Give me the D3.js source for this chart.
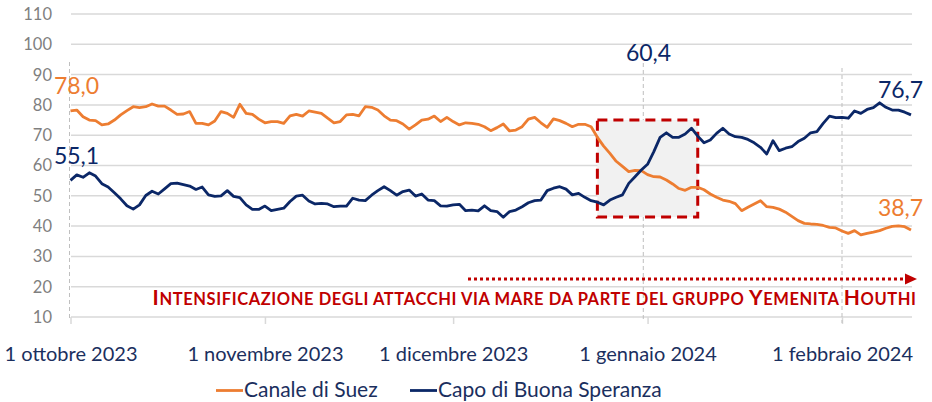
<!DOCTYPE html>
<html><head><meta charset="utf-8">
<script src="https://cdn.jsdelivr.net/npm/d3@7"></script>
<style>
html,body{margin:0;padding:0;background:#fff;}
svg{display:block;font-family:Lato,"Noto Sans",sans-serif;}
</style></head>
<body><svg id="chart" width="932" height="402"></svg>
<script>
// ---- data ----
const startDate = new Date(2023, 9, 1);
const seriesNames = ["Canale di Suez", "Capo di Buona Speranza"];
const suez = [78.0,78.3,76.1,75.0,74.8,73.4,73.7,75.0,76.7,78.1,
 79.4,79.1,79.4,80.3,79.6,79.6,78.3,76.9,77.0,77.8,
 73.9,73.9,73.4,74.7,77.8,77.2,75.9,80.2,77.2,76.9,
 75.3,74.1,74.5,74.5,73.9,76.4,76.9,
 76.3,78.0,77.6,77.2,75.6,74.1,74.5,76.7,76.9,76.4,
 79.4,79.2,78.3,76.4,75.0,74.8,73.7,72.0,73.4,75.0,
 75.3,76.3,74.5,75.9,74.5,73.4,74.1,73.9,73.6,72.8,
 71.5,72.5,73.7,71.4,71.7,72.8,75.3,75.9,74.1,72.6,
 75.4,74.8,73.9,72.8,73.6,73.6,72.8,69.3,
 66.4,64.0,61.4,59.7,58.0,58.4,58.3,57.0,56.3,56.2,
 55.2,53.9,52.4,51.8,52.8,52.8,52.0,50.6,49.5,48.6,
 48.2,47.4,45.1,46.2,47.3,48.4,46.4,46.2,45.6,44.6,
 43.2,41.8,40.9,40.7,40.6,40.2,39.6,39.4,38.4,37.6,
 38.5,37.1,37.6,38.0,38.5,39.3,39.9,40.1,39.8,38.7];
const capo = [55.1,56.9,56.1,57.6,56.5,54.0,52.9,51.0,49.0,46.7,
 45.6,47.0,50.1,51.5,50.6,52.3,54.0,54.2,53.7,53.2,
 52.1,52.9,50.3,49.8,50.0,51.7,49.8,49.4,47.0,45.5,
 45.5,46.6,45.1,45.5,45.9,48.1,49.9,50.2,48.3,47.3,
 47.5,47.3,46.4,46.6,46.6,49.2,48.6,48.4,50.2,51.7,
 53.0,51.7,50.2,51.4,51.9,49.9,50.6,48.6,48.4,46.7,
 46.6,47.0,47.2,45.1,45.3,45.0,46.7,45.1,44.8,42.9,
 44.8,45.3,46.4,47.7,48.4,48.6,51.7,52.5,53.0,52.2,
 50.3,50.8,49.5,48.4,47.9,47.0,48.6,49.5,50.3,54.1,
 56.3,58.5,60.4,64.6,69.3,70.8,69.3,69.3,70.4,72.3,
 69.7,67.5,68.4,70.6,72.3,70.4,69.5,69.3,68.6,67.5,
 66.0,63.8,68.2,64.9,65.7,66.2,67.9,69.0,70.8,71.2,
 73.9,76.3,75.8,75.9,75.6,78.0,77.2,78.5,79.1,80.7,
 79.2,78.3,78.3,77.6,76.7];
const yTicks = [10,20,30,40,50,60,70,80,90,100,110];
const xTickDates = ["2023-10-01","2023-11-01","2023-12-01","2024-01-01","2024-02-01"];
const xTickLabels = ["1 ottobre 2023","1 novembre 2023","1 dicembre 2023","1 gennaio 2024","1 febbraio 2024"];
const boxDates = ["2023-12-24","2024-01-09"];
const boxValues = [75, 43];
const annotation = "Intensificazione degli attacchi via mare da parte del gruppo Yemenita Houthi";
const labelPoints = [ // [series, index, text]
  ["suez", 0, "78,0"], ["capo", 0, "55,1"], ["capo", 92, "60,4"],
  ["capo", 134, "76,7"], ["suez", 134, "38,7"]];

// ---- setup ----
const parse = s => { const [y,m,d] = s.split("-").map(Number); return new Date(y, m-1, d); };
const dates = suez.map((_, i) => d3.timeDay.offset(startDate, i));
const ORANGE = "#ED7D31", NAVY = "#0B2767", RED = "#C00000", GRID = "#d9d9d9", TEXT = "#1b2f5e";

const svg = d3.select("#chart");
const x = d3.scaleTime().domain([dates[0], dates[dates.length-1]]).range([70.5, 911]);
const y = d3.scaleLinear().domain([10, 110]).range([317, 14]);

// gridlines
svg.append("g").selectAll("line").data(yTicks).join("line")
  .attr("x1", 71).attr("x2", 912)
  .attr("y1", d => y(d)).attr("y2", d => y(d))
  .attr("stroke", GRID).attr("stroke-width", 1.5);

// y labels
svg.append("g").selectAll("text").data(yTicks).join("text")
  .attr("x", 52).attr("y", d => y(d)).attr("dy", "0.36em")
  .attr("text-anchor", "end").attr("fill", "#7f7f7f")
  .style("font-size", "16.5px").text(d => d);

// x axis ticks & labels
const xAxis = d3.axisBottom(x).tickValues(xTickDates.map(parse))
  .tickFormat((d, i) => xTickLabels[i]).tickSize(7).tickSizeOuter(0);
const gx = svg.append("g").attr("transform", `translate(0,${y(10)})`).call(xAxis);
gx.select(".domain").remove();
gx.selectAll(".tick line").attr("stroke", GRID).attr("stroke-width", 1.5);
gx.selectAll(".tick text").attr("fill", TEXT).attr("y", 30)
  .style("font-size", "20px").style("font-family", "Lato");

// dashed vertical reference lines
const refLines = [[dates[0], 62, 318, -1], [dates[91], 63, 321, 2], [dates[123], 68, 323, 0]];
svg.append("g").selectAll("line").data(refLines).join("line")
  .attr("x1", d => x(d[0]) + d[3]).attr("x2", d => x(d[0]) + d[3])
  .attr("y1", d => d[1]).attr("y2", d => d[2])
  .attr("stroke", "#bfbfbf").attr("stroke-width", 1).attr("stroke-dasharray", "4,3");

// highlight box
const bx0 = x(parse(boxDates[0])), bx1 = x(parse(boxDates[1]));
svg.append("rect").attr("x", bx0).attr("y", y(boxValues[0]))
  .attr("width", bx1 - bx0).attr("height", y(boxValues[1]) - y(boxValues[0]))
  .attr("fill", "#f1f1f1").attr("stroke", RED).attr("stroke-width", 3)
  .attr("stroke-dasharray", "10,6");

// lines
const line = d3.line().x((d, i) => x(dates[i])).y(d => y(d));
svg.append("path").datum(suez).attr("d", line).attr("fill", "none")
  .attr("stroke", ORANGE).attr("stroke-width", 2.8).attr("stroke-linejoin", "round");
svg.append("path").datum(capo).attr("d", line).attr("fill", "none")
  .attr("stroke", NAVY).attr("stroke-width", 2.8).attr("stroke-linejoin", "round");

// value labels
const labelOffsets = {"78,0":[6,-17], "55,1":[6,-16], "60,4":[1,-103.5], "76,7":[-10.5,-17], "38,7":[-10.5,-14]};
svg.append("g").selectAll("text").data(labelPoints).join("text")
  .attr("x", d => x(dates[d[1]]) + labelOffsets[d[2]][0])
  .attr("y", d => y((d[0] === "suez" ? suez : capo)[d[1]]) + labelOffsets[d[2]][1])
  .attr("text-anchor", "middle")
  .attr("fill", d => d[0] === "suez" ? ORANGE : NAVY)
  .style("font-size", "23px").text(d => d[2]);

// annotation arrow
const arrowY = 279;
svg.append("line").attr("x1", 468).attr("x2", 905).attr("y1", arrowY).attr("y2", arrowY)
  .attr("stroke", RED).attr("stroke-width", 3).attr("stroke-dasharray", "3,3");
svg.append("path").attr("d", `M905,${arrowY-5.5}L917,${arrowY}L905,${arrowY+5.5}Z`).attr("fill", RED);

// annotation text, small caps built from tspans
const ann = svg.append("text").attr("x", 916).attr("y", 305).attr("text-anchor", "end")
  .attr("fill", RED).style("font-weight", "bold");
const words = annotation.split(" ");
words.forEach((w, wi) => {
  const first = w[0], rest = w.slice(1);
  if (first === first.toUpperCase()) {
    ann.append("tspan").style("font-size", "21px").text(first);
    ann.append("tspan").style("font-size", "16.5px").text(rest.toUpperCase() + (wi < words.length-1 ? " " : ""));
  } else {
    ann.append("tspan").style("font-size", "16.5px").text(w.toUpperCase() + (wi < words.length-1 ? " " : ""));
  }
});
const annLen = ann.node().getComputedTextLength();
const nChars = annotation.length;
ann.attr("letter-spacing", ((764 - annLen) / nChars).toFixed(3));
ann.attr("x", 916 + (764 - annLen) / nChars);

// legend
const legend = svg.append("g");
const legItems = [[seriesNames[0], ORANGE, 216], [seriesNames[1], NAVY, 410]];
legItems.forEach(([name, col, lx]) => {
  legend.append("line").attr("x1", lx).attr("x2", lx + 27).attr("y1", 390.5).attr("y2", 390.5)
    .attr("stroke", col).attr("stroke-width", 2.8);
  legend.append("text").attr("x", lx + 28).attr("y", 396.5).attr("fill", TEXT)
    .style("font-size", "21px").text(name);
});
</script></body></html>
